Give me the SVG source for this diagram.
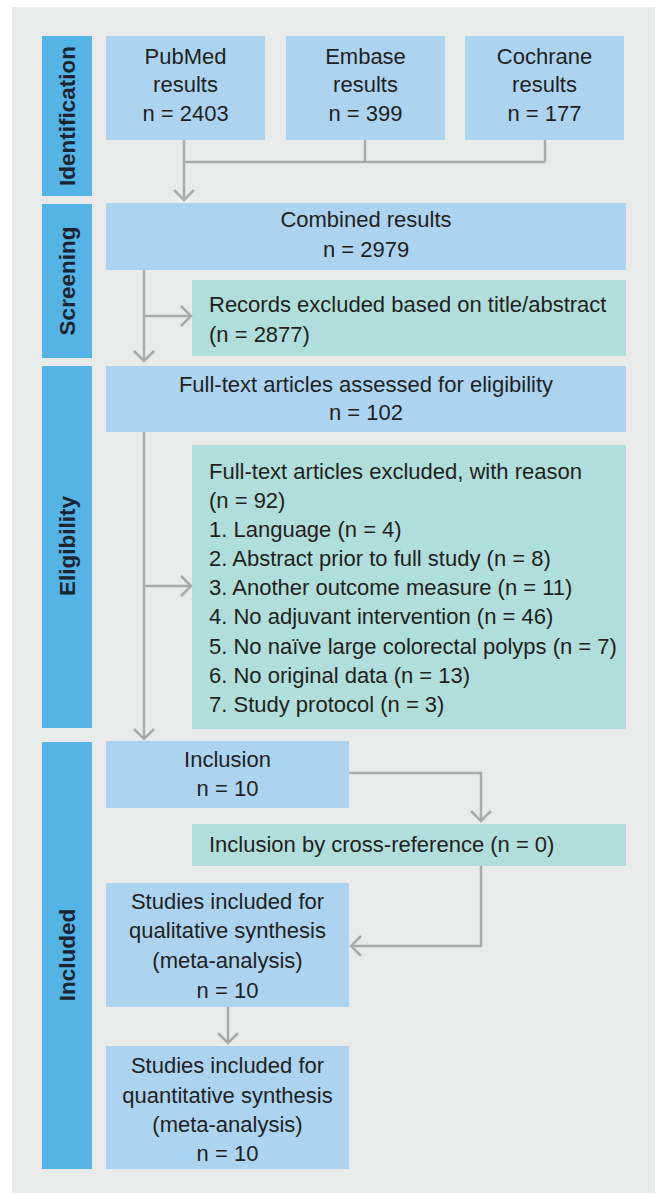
<svg xmlns="http://www.w3.org/2000/svg" width="657" height="1194" viewBox="0 0 657 1194">
<defs>
<style>
.bg{fill:#e9ebeb}
.lab{fill:#55b4e6}
.box{fill:#acd4f0}
.ex{fill:#b0dedc}
.t{font-family:"Liberation Sans",Arial,sans-serif;font-size:22px;fill:#231f20}
.c{text-anchor:middle}
.lt{font-family:"Liberation Sans",Arial,sans-serif;font-size:22.5px;font-weight:bold;fill:#1c2430;text-anchor:middle}
.con{fill:none;stroke:#a9aaab;stroke-width:2.5}
</style>
<marker id="ah" viewBox="-12 -12 14 24" markerUnits="userSpaceOnUse" markerWidth="14" markerHeight="24" refX="0" refY="0" orient="auto">
<path d="M-10,-10 L0,0 L-10,10" fill="none" stroke="#a9aaab" stroke-width="2.5"/>
</marker>
</defs>
<rect class="bg" x="12" y="7" width="643" height="1186"/>

<g id="lab-identification"><rect class="lab" x="42" y="36" width="50" height="160"/><text class="lt" transform="translate(75,116) rotate(-90)">Identification</text></g>
<g id="lab-screening"><rect class="lab" x="42" y="204" width="50" height="154"/><text class="lt" transform="translate(75,281) rotate(-90)">Screening</text></g>
<g id="lab-eligibility"><rect class="lab" x="42" y="366" width="50" height="362"/><text class="lt" transform="translate(75,546) rotate(-90)">Eligibility</text></g>
<g id="lab-included"><rect class="lab" x="42" y="742" width="50" height="427"/><text class="lt" transform="translate(75,955) rotate(-90)">Included</text></g>

<g id="pubmed"><rect class="box" x="106" y="36" width="159" height="104"/><text class="t c" x="185.5" y="64">PubMed</text><text class="t c" x="185.5" y="92">results</text><text class="t c" x="185.5" y="121">n = 2403</text></g>
<g id="embase"><rect class="box" x="286" y="36" width="159" height="104"/><text class="t c" x="365.5" y="64">Embase</text><text class="t c" x="365.5" y="92">results</text><text class="t c" x="365.5" y="121">n = 399</text></g>
<g id="cochrane"><rect class="box" x="465" y="36" width="159" height="104"/><text class="t c" x="544.5" y="64">Cochrane</text><text class="t c" x="544.5" y="92">results</text><text class="t c" x="544.5" y="121">n = 177</text></g>

<g id="combined"><rect class="box" x="106" y="203" width="520" height="67"/><text class="t c" x="366" y="227">Combined results</text><text class="t c" x="366" y="257">n = 2979</text></g>
<g id="records-excluded"><rect class="ex" x="192" y="280" width="434" height="76"/><text class="t" x="209" y="312">Records excluded based on title/abstract</text><text class="t" x="209" y="342">(n = 2877)</text></g>

<g id="fulltext"><rect class="box" x="106" y="366" width="520" height="66"/><text class="t c" x="366" y="392">Full-text articles assessed for eligibility</text><text class="t c" x="366" y="420">n = 102</text></g>
<g id="fulltext-excluded"><rect class="ex" x="192" y="445" width="434" height="284"/>
<text class="t" x="209" y="479">Full-text articles excluded, with reason</text>
<text class="t" x="209" y="508">(n = 92)</text>
<text class="t" x="209" y="537">1. Language (n = 4)</text>
<text class="t" x="209" y="566">2. Abstract prior to full study (n = 8)</text>
<text class="t" x="209" y="595">3. Another outcome measure (n = 11)</text>
<text class="t" x="209" y="624">4. No adjuvant intervention (n = 46)</text>
<text class="t" x="209" y="654">5. No naïve large colorectal polyps (n = 7)</text>
<text class="t" x="209" y="683">6. No original data (n = 13)</text>
<text class="t" x="209" y="712">7. Study protocol (n = 3)</text>
</g>

<g id="inclusion"><rect class="box" x="106" y="741" width="243" height="67"/><text class="t c" x="227.5" y="767">Inclusion</text><text class="t c" x="227.5" y="796">n = 10</text></g>
<g id="crossref"><rect class="ex" x="192" y="824" width="434" height="42"/><text class="t" x="209" y="852">Inclusion by cross-reference (n = 0)</text></g>
<g id="qualitative"><rect class="box" x="106" y="883" width="243" height="124"/><text class="t c" x="227.5" y="909">Studies included for</text><text class="t c" x="227.5" y="938">qualitative synthesis</text><text class="t c" x="227.5" y="968">(meta-analysis)</text><text class="t c" x="227.5" y="998">n = 10</text></g>
<g id="quantitative"><rect class="box" x="106" y="1046" width="243" height="123"/><text class="t c" x="227.5" y="1073">Studies included for</text><text class="t c" x="227.5" y="1103">quantitative synthesis</text><text class="t c" x="227.5" y="1132">(meta-analysis)</text><text class="t c" x="227.5" y="1161">n = 10</text></g>

<g id="connectors">
<path class="con" d="M184,162 H545 M365,140 V162 M545,140 V162"/>
<path class="con" d="M184,140 V200" marker-end="url(#ah)"/>
<path class="con" d="M144,270 V361" marker-end="url(#ah)"/>
<path class="con" d="M144,316 H191" marker-end="url(#ah)"/>
<path class="con" d="M144,432 V739" marker-end="url(#ah)"/>
<path class="con" d="M144,586 H191" marker-end="url(#ah)"/>
<path class="con" d="M349,773 H481 V821" marker-end="url(#ah)"/>
<path class="con" d="M481,866 V946 H351" marker-end="url(#ah)"/>
<path class="con" d="M228,1007 V1043" marker-end="url(#ah)"/>
</g>
</svg>
